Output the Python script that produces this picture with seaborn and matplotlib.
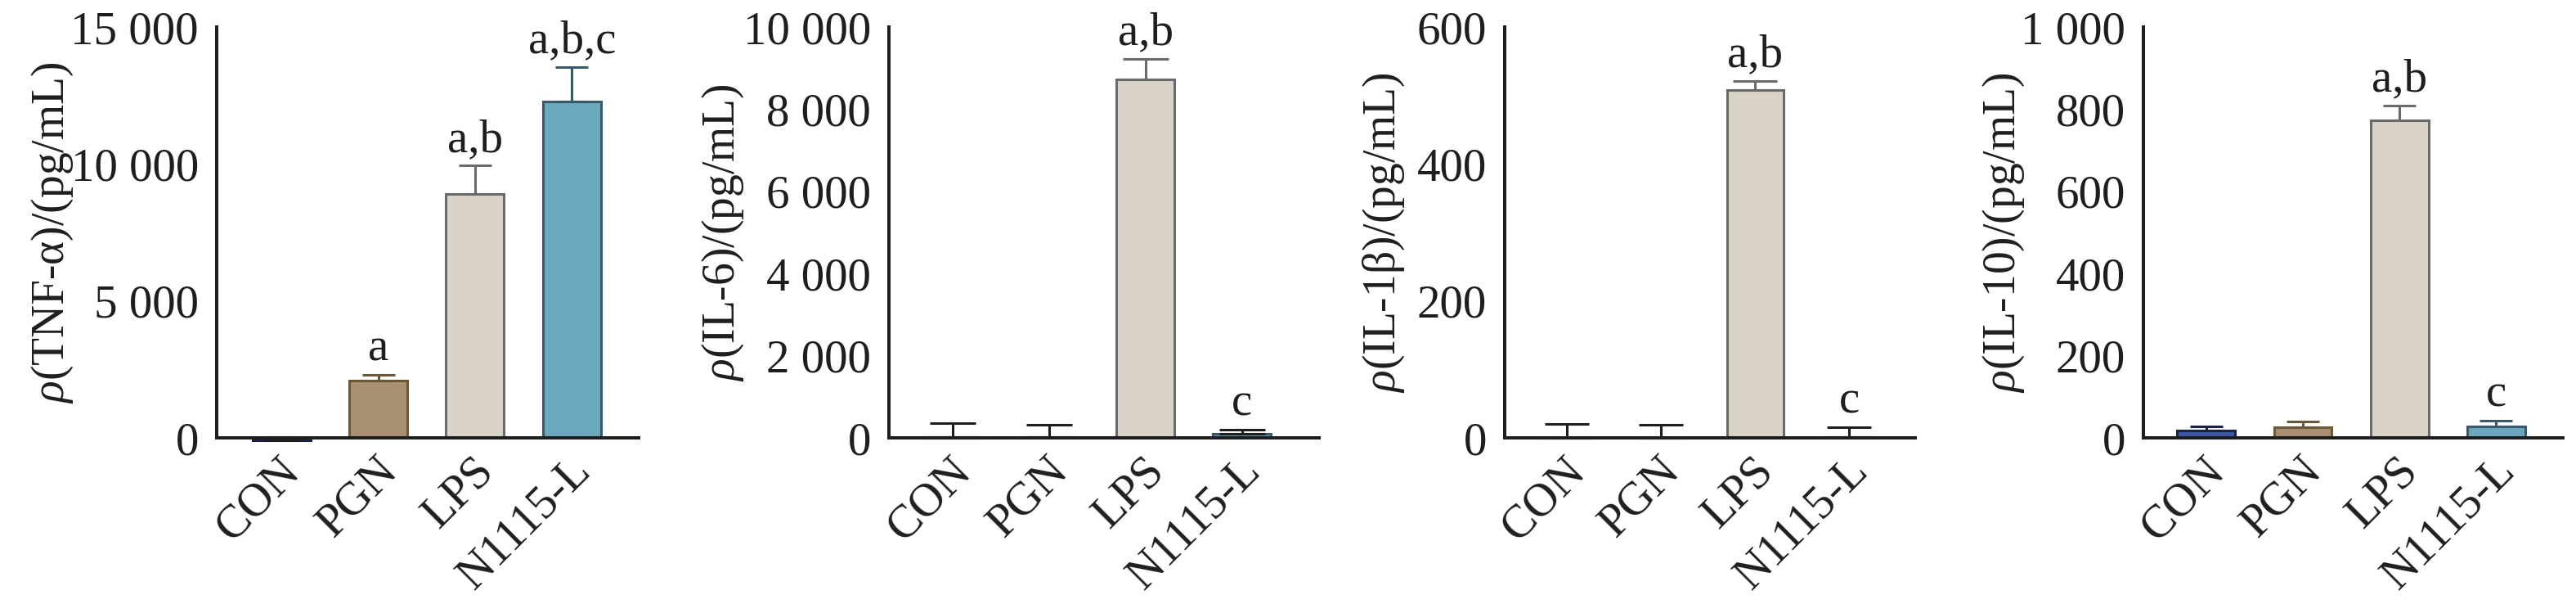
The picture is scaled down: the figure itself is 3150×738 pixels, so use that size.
import numpy as np
import pandas as pd
import matplotlib
matplotlib.use("Agg")
import matplotlib.pyplot as plt
import matplotlib.transforms as mtrans
from matplotlib.ticker import FuncFormatter, MultipleLocator
import seaborn as sns

groups = ["CON", "PGN", "LPS", "N1115-L"]

tnf = [-100, 2100, 8900, 12270]
tnf_err = [130, 200, 1040, 1270]
tnf_sig = ["", "a", "a,b", "a,b,c"]

il6 = [10, 10, 8730, 100]
il6_err = [350, 310, 500, 100]
il6_sig = ["", "", "a,b", "c"]

il1b = [0.5, 0.5, 508, 1]
il1b_err = [20, 18.5, 13, 14.5]
il1b_sig = ["", "", "a,b", "c"]

il10 = [18, 26, 772, 28]
il10_err = [10, 14, 37, 14]
il10_sig = ["", "", "a,b", "c"]

ylabels = [r"$\rho$(TNF-α)/(pg/mL)", r"$\rho$(IL-6)/(pg/mL)",
           r"$\rho$(IL-1β)/(pg/mL)", r"$\rho$(IL-10)/(pg/mL)"]

fill_colors = ["#3B58A5", "#A89070", "#DAD4C8", "#6BA8BD"]
edge_colors = ["#1C2340", "#6A5838", "#6A6A6A", "#3A5868"]

sns.set_style("white")
plt.rcParams["font.family"] = ["Liberation Serif", "DejaVu Serif"]
plt.rcParams["mathtext.fontset"] = "custom"
plt.rcParams["mathtext.rm"] = "Liberation Serif"
plt.rcParams["mathtext.it"] = "Liberation Serif:italic"

fig = plt.figure(figsize=(31.5, 7.38), dpi=100)
W, H = 3150, 738

# spine x, axis end x (px), xlim, ylim top, tick step, cap size, ylabel x
panels = [
    (265, 781, (-0.67, 3.69), 15000, 5000, 29, -0.335, tnf, tnf_err, tnf_sig),
    (1087, 1613, (-0.66, 3.80), 10000, 2000, 40, -0.333, il6, il6_err, il6_sig),
    (1840, 2342, (-0.66, 3.70), 600, 200, 39, -0.239, il1b, il1b_err, il1b_sig),
    (2621, 3134, (-0.65, 3.69), 1000, 200, 29, -0.279, il10, il10_err, il10_sig),
]

y_top, y_zero = 33, 535
FS = 41

def fmt(v, pos):
    return f"{int(round(v)):,}".replace(",", " ")

for i, (x0, x1, xl, ytop, step, cap, ylx, vals, errs, sig) in enumerate(panels):
    ax = fig.add_axes([x0 / W, 1 - y_zero / H, (x1 - x0) / W, (y_zero - y_top) / H])
    df = pd.DataFrame({"group": groups, "value": vals})
    sns.barplot(data=df, x="group", y="value", hue="group", order=groups,
                hue_order=groups, palette=fill_colors, width=0.6,
                legend=False, errorbar=None, ax=ax, saturation=1)
    for j, p in enumerate(ax.patches):
        p.set_edgecolor(edge_colors[j])
        p.set_linewidth(2.2)
        p.set_clip_on(False)
        p.set_zorder(2)
    for j in range(4):
        ax.errorbar(j, vals[j], yerr=[[0], [errs[j]]], fmt="none",
                    ecolor=edge_colors[j] if vals[j] > ytop * 0.01 else "#1E1E1E",
                    elinewidth=2.2, capsize=cap / 2, capthick=2.2, zorder=3,
                    clip_on=False)
        if sig[j]:
            ax.annotate(sig[j], (j, vals[j] + errs[j]), xytext=(0, 4),
                        textcoords="offset points", ha="center", va="bottom",
                        fontsize=FS, color="#1E1E1E")
    ax.set_xlim(*xl)
    ax.set_ylim(0, ytop)
    ax.yaxis.set_major_locator(MultipleLocator(step))
    ax.yaxis.set_major_formatter(FuncFormatter(fmt))
    sns.despine(ax=ax)
    for s in ["left", "bottom"]:
        ax.spines[s].set_linewidth(2.9)
        ax.spines[s].set_color("#1E1E1E")
        ax.spines[s].set_zorder(4)
    ax.tick_params(axis="y", direction="in", length=11, width=2.9,
                   color="#1E1E1E", labelsize=FS, pad=16)
    ax.tick_params(axis="x", direction="in", length=10, width=2.2,
                   color="#1E1E1E", labelsize=FS, pad=10)
    ax.set_xlabel("")
    ax.set_ylabel(ylabels[i], fontsize=FS - 1, color="#1E1E1E")
    ax.yaxis.set_label_coords(ylx, 0.5)
    offset = mtrans.ScaledTranslation(33 / 100, 0, fig.dpi_scale_trans)
    for lab in ax.get_xticklabels():
        lab.set_rotation(45)
        lab.set_ha("right")
        lab.set_color("#1E1E1E")
        lab.set_transform(lab.get_transform() + offset)
    for lab in ax.get_yticklabels():
        lab.set_color("#1E1E1E")
    ax.set_facecolor("white")

fig.savefig("out.png", dpi=100, facecolor="white")
